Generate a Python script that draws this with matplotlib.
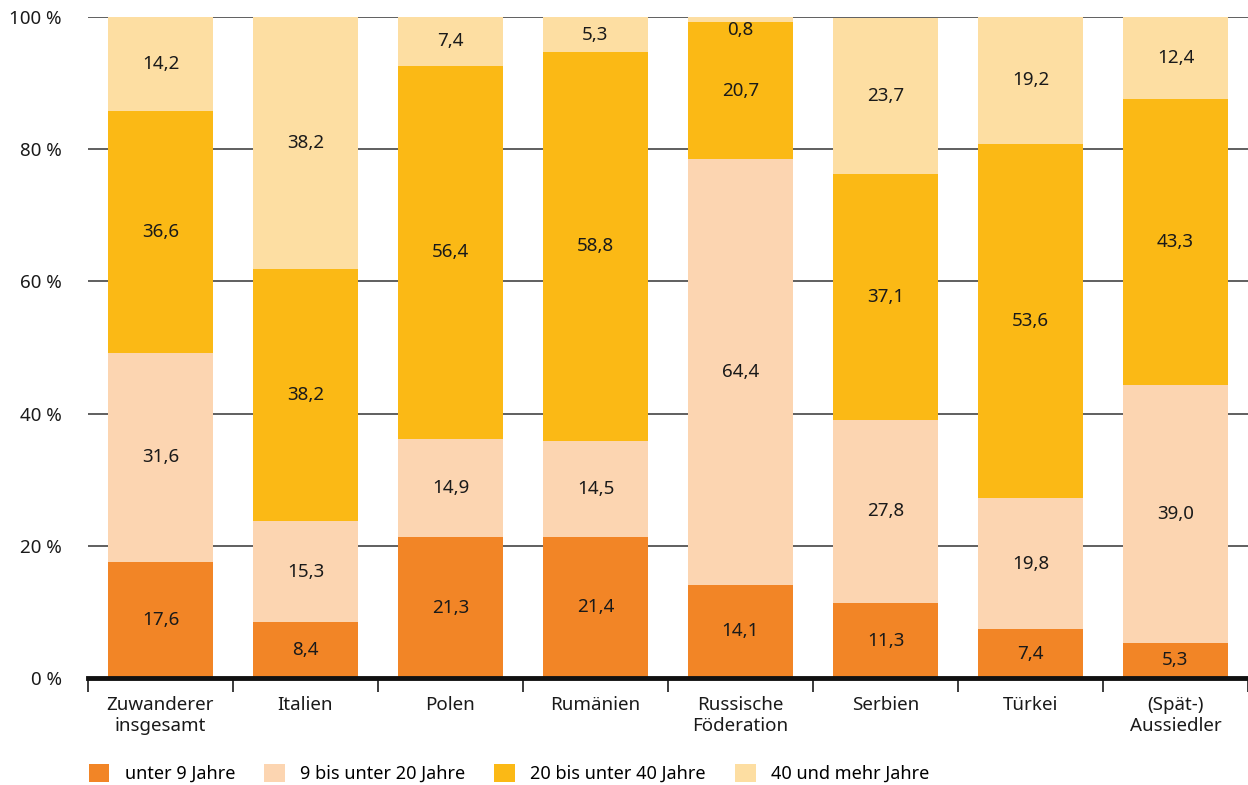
import matplotlib.pyplot as plt
from matplotlib.patches import Patch
import numpy as np

plt.rcParams['font.family'] = ['Noto Sans', 'DejaVu Sans']

categories = ["Zuwanderer\ninsgesamt", "Italien", "Polen", "Rumänien",
              "Russische\nFöderation", "Serbien", "Türkei", "(Spät-)\nAussiedler"]
series_names = ["unter 9 Jahre", "9 bis unter 20 Jahre",
                "20 bis unter 40 Jahre", "40 und mehr Jahre"]
unter9 = [17.6, 8.4, 21.3, 21.4, 14.1, 11.3, 7.4, 5.3]
bis20 = [31.6, 15.3, 14.9, 14.5, 64.4, 27.8, 19.8, 39.0]
bis40 = [36.6, 38.2, 56.4, 58.8, 20.7, 37.1, 53.6, 43.3]
ab40 = [14.2, 38.2, 7.4, 5.3, 0.8, 23.7, 19.2, 12.4]
yticks = [0, 20, 40, 60, 80, 100]

colors = ["#F28526", "#FCD5B1", "#FBB915", "#FDDEA2"]

fig = plt.figure(figsize=(12.48, 7.85), dpi=100)
ax = fig.add_axes([0.0705, 0.1363, 0.9295, 0.842])

x = np.arange(len(categories))
bottom = np.zeros(len(categories))
for vals, col in zip([unter9, bis20, bis40, ab40], colors):
    vals = np.array(vals)
    ax.bar(x, vals, bottom=bottom, width=0.72, color=col, zorder=2)
    for xi, b, v in zip(x, bottom, vals):
        label = f"{v:.1f}".replace(".", ",")
        if v < 2:
            # tiny segment: put label just under the top of the bar
            ax.text(xi, min(b + v, 100) - 0.6, label, ha="center", va="top",
                    fontsize=13.5, color="#1a1a1a", zorder=3)
        else:
            ax.text(xi, b + v / 2, label, ha="center", va="center",
                    fontsize=13.5, color="#1a1a1a", zorder=3)
    bottom = bottom + vals

ax.set_xlim(-0.5, len(categories) - 0.5)
ax.set_ylim(0, 100)
ax.set_yticks(yticks)
ax.set_yticklabels([f"{t} %" for t in yticks], fontsize=13.5, color="#1a1a1a")
ax.tick_params(axis="y", length=0, pad=19)
ax.grid(axis="y", color="#444444", linewidth=1.2, zorder=0)

ax.set_xticks(x)
ax.set_xticklabels(categories, fontsize=13.5, color="#1a1a1a", linespacing=1.2)
ax.tick_params(axis="x", which="major", length=0, pad=13)
ax.set_xticks(np.arange(-0.5, len(categories), 1), minor=True)
ax.tick_params(axis="x", which="minor", length=10, width=1.2, color="#1a1a1a")

for s in ["top", "right", "left"]:
    ax.spines[s].set_visible(False)
ax.spines["bottom"].set_linewidth(3.5)
ax.spines["bottom"].set_color("#111111")
ax.spines["bottom"].set_zorder(4)

handles = [Patch(facecolor=c, edgecolor="none") for c in colors]
fig.legend(handles, series_names, loc="lower left", bbox_to_anchor=(0.058, -0.018),
           ncol=4, frameon=False, fontsize=13, handlelength=1.15, handleheight=1.15,
           handletextpad=0.85, columnspacing=1.6)

fig.savefig("out.png", dpi=100)
